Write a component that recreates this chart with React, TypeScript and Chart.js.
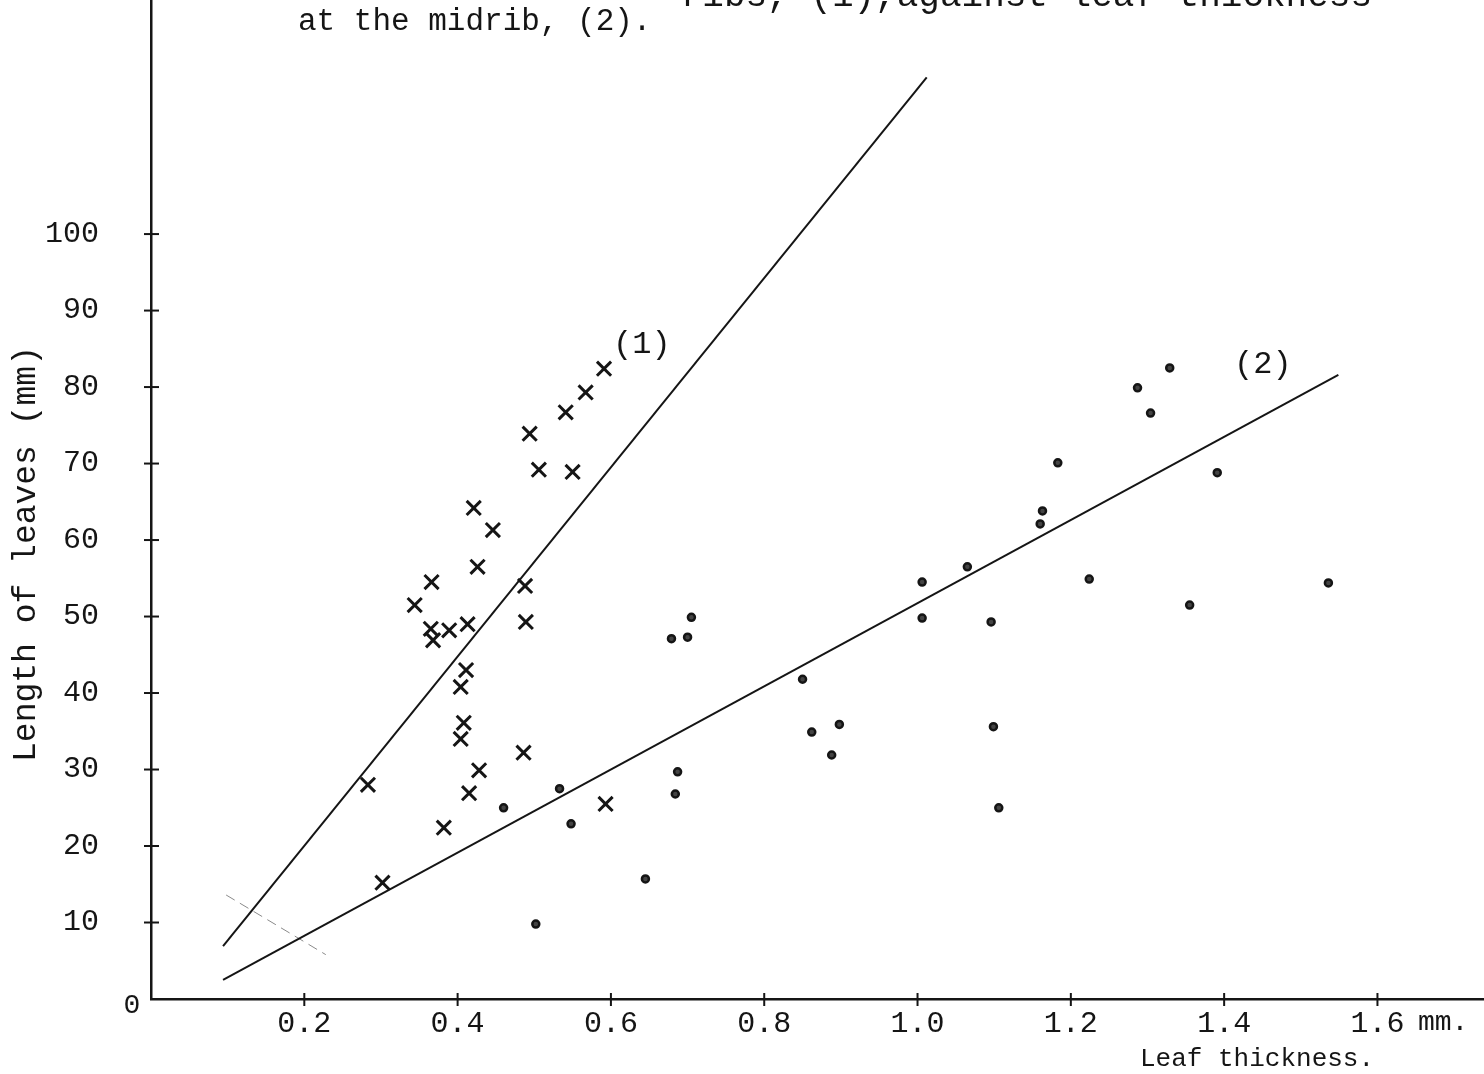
import React, { useEffect, useRef } from "react";
import { Chart, registerables } from "chart.js";

Chart.register(...registerables);

// Series (1): leaf length vs leaf thickness (crosses)
const crossThickness = [0.591, 0.567, 0.541, 0.494, 0.506, 0.550, 0.421, 0.446, 0.426, 0.366, 0.344, 0.488, 0.489, 0.413, 0.389, 0.365, 0.368, 0.411, 0.404, 0.408, 0.404, 0.486, 0.428, 0.415, 0.283, 0.382, 0.593, 0.302];
const crossLength = [82.4, 79.3, 76.7, 73.9, 69.2, 68.9, 64.2, 61.3, 56.5, 54.5, 51.5, 54.0, 49.3, 49.0, 48.2, 48.4, 46.9, 43.0, 40.8, 36.1, 34.0, 32.2, 29.9, 26.9, 28.0, 22.4, 25.5, 15.2];

// Series (2): leaf length vs thickness at the midrib (dots)
const dotThickness = [0.705, 0.679, 0.700, 1.006, 1.006, 1.096, 0.850, 0.898, 0.862, 1.099, 0.888, 0.687, 0.684, 1.106, 0.645, 0.533, 0.460, 0.548, 0.502, 1.329, 1.287, 1.304, 1.183, 1.391, 1.163, 1.160, 1.224, 1.355, 1.536, 1.065];
const dotLength = [49.9, 47.1, 47.3, 54.5, 49.8, 49.3, 41.8, 35.9, 34.9, 35.6, 31.9, 29.7, 26.8, 25.0, 15.7, 27.5, 25.0, 22.9, 9.8, 82.5, 79.9, 76.6, 70.1, 68.8, 63.8, 62.1, 54.9, 51.5, 54.4, 56.5];

// Fitted lines (end points)
const line1X = [0.094, 1.012];
const line1Y = [6.9, 120.5];
const line2X = [0.094, 1.549];
const line2Y = [2.5, 81.6];
// faint pencil mark
const markX = [0.098, 0.228];
const markY = [13.6, 5.8];

const xTickValues = [0.2, 0.4, 0.6, 0.8, 1.0, 1.2, 1.4, 1.6];
const yTickValues = [10, 20, 30, 40, 50, 60, 70, 80, 90, 100];

const X_MAX = 1.739;
const Y_MAX = 130.6;
const FONT = "'Liberation Mono', 'DejaVu Sans Mono', monospace";
const INK = "#151515";

const pts = (xs: number[], ys: number[]) => xs.map((x, i) => ({ x, y: ys[i] }));

const annotatePlugin = {
  id: "annotate",
  afterDraw(chart: any) {
    const ctx = chart.ctx as CanvasRenderingContext2D;
    const xs = chart.scales.x;
    const ys = chart.scales.y;
    ctx.save();
    ctx.strokeStyle = INK;
    ctx.lineWidth = 2;
    // tick marks crossing the axes
    const x0 = xs.getPixelForValue(0);
    const y0 = ys.getPixelForValue(0);
    for (const v of xTickValues) {
      const px = xs.getPixelForValue(v);
      ctx.beginPath();
      ctx.moveTo(px, y0 - 6);
      ctx.lineTo(px, y0 + 7);
      ctx.stroke();
    }
    for (const v of yTickValues) {
      const py = ys.getPixelForValue(v);
      ctx.beginPath();
      ctx.moveTo(x0 - 7, py);
      ctx.lineTo(x0 + 8, py);
      ctx.stroke();
    }
    ctx.fillStyle = INK;
    ctx.textBaseline = "alphabetic";
    // cut-off caption lines
    ctx.font = `36px ${FONT}`;
    ctx.textAlign = "right";
    ctx.fillText("ribs, (1),against leaf thickness", 1372, 6);
    ctx.font = `31px ${FONT}`;
    ctx.textAlign = "left";
    ctx.fillText("at the midrib, (2).", 298, 30);
    // curve labels
    ctx.font = `32px ${FONT}`;
    ctx.fillText("(1)", 613, 353);
    ctx.fillText("(2)", 1234, 373);
    // origin label
    ctx.textAlign = "center";
    ctx.textBaseline = "middle";
    ctx.font = `28px ${FONT}`;
    ctx.fillText("0", 132, 1006);
    // units and axis titles
    ctx.textAlign = "left";
    ctx.textBaseline = "alphabetic";
    ctx.font = `28px ${FONT}`;
    ctx.fillText("mm.", 1418, 1030);
    ctx.font = `26px ${FONT}`;
    ctx.fillText("Leaf thickness.", 1140, 1066);
    ctx.translate(26, 554);
    ctx.rotate(-Math.PI / 2);
    ctx.textAlign = "center";
    ctx.textBaseline = "middle";
    ctx.font = `33px ${FONT}`;
    ctx.fillText("Length of leaves (mm)", 0, 0);
    ctx.restore();
  },
};

export default function App() {
  const canvasRef = useRef<HTMLCanvasElement | null>(null);

  useEffect(() => {
    const canvas = canvasRef.current;
    if (!canvas) return;
    const chart = new Chart(canvas, {
      type: "scatter",
      data: {
        datasets: [
          {
            label: "(1)",
            data: pts(crossThickness, crossLength),
            pointStyle: "crossRot",
            pointRadius: 10,
            pointBorderWidth: 3,
            borderColor: INK,
            backgroundColor: INK,
          },
          {
            label: "(2)",
            data: pts(dotThickness, dotLength),
            pointStyle: "circle",
            pointRadius: 3.5,
            pointBorderWidth: 2.5,
            borderColor: INK,
            backgroundColor: "#444",
          },
          {
            type: "line",
            label: "line (1)",
            data: pts(line1X, line1Y),
            borderColor: INK,
            borderWidth: 2,
            pointRadius: 0,
            showLine: true,
            fill: false,
          },
          {
            type: "line",
            label: "line (2)",
            data: pts(line2X, line2Y),
            borderColor: INK,
            borderWidth: 2,
            pointRadius: 0,
            showLine: true,
            fill: false,
          },
          {
            type: "line",
            label: "mark",
            data: pts(markX, markY),
            borderColor: "#8a8a8a",
            borderWidth: 1,
            borderDash: [10, 6],
            pointRadius: 0,
            showLine: true,
            fill: false,
          },
        ],
      } as any,
      options: {
        animation: false,
        responsive: false,
        devicePixelRatio: 1,
        layout: { padding: 0, autoPadding: false },
        plugins: { legend: { display: false }, tooltip: { enabled: false }, title: { display: false } },
        scales: {
          x: {
            type: "linear",
            min: 0,
            max: X_MAX,
            grid: { display: false },
            border: { display: true, color: INK, width: 2.5 },
            ticks: {
              stepSize: 0.2,
              includeBounds: false,
              padding: -1,
              color: INK,
              font: { family: FONT, size: 30 },
              callback: (v: any) => {
                const n = Number(v);
                return n < 0.1 || n > 1.65 ? "" : n.toFixed(1);
              },
            },
            afterFit: (s: any) => {
              s.height = 75;
              s.paddingLeft = 0;
              s.paddingRight = 0;
            },
          },
          y: {
            type: "linear",
            min: 0,
            max: Y_MAX,
            grid: { display: false },
            border: { display: true, color: INK, width: 2.5 },
            ticks: {
              stepSize: 10,
              includeBounds: false,
              padding: 44,
              color: INK,
              font: { family: FONT, size: 30 },
              callback: (v: any) => {
                const n = Number(v);
                return n < 5 || n > 105 ? "" : String(Math.round(n));
              },
            },
            afterFit: (s: any) => {
              s.width = 151;
              s.paddingTop = 0;
              s.paddingBottom = 0;
            },
          },
        },
      } as any,
      plugins: [annotatePlugin],
    });
    return () => chart.destroy();
  }, []);

  return (
    <div style={{ position: "fixed", left: 0, top: 0, width: 1484, height: 1074, background: "#fff" }}>
      <canvas ref={canvasRef} width={1484} height={1074} style={{ display: "block" }} />
    </div>
  );
}
